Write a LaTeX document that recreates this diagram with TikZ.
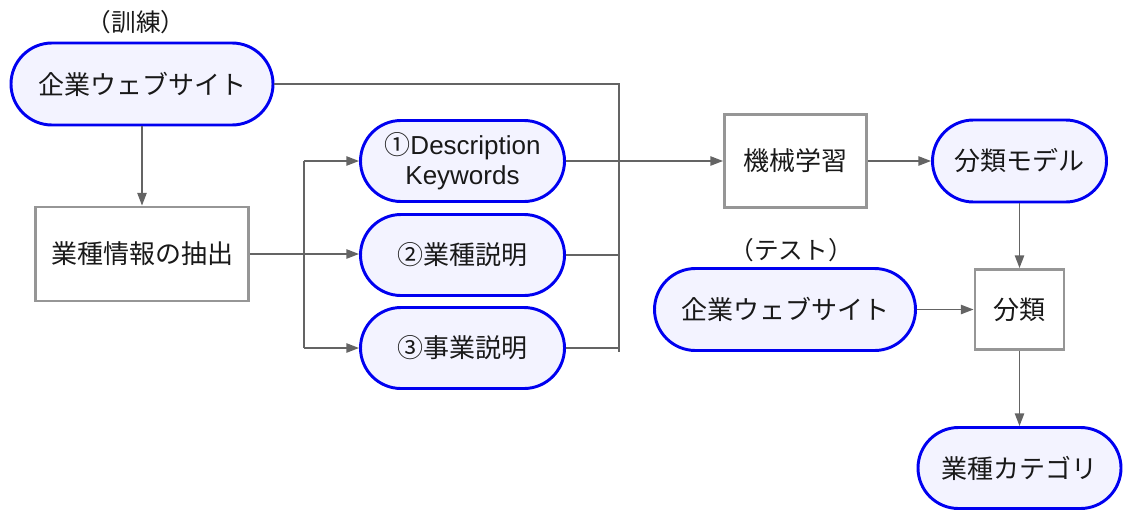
\documentclass[tikz,border=0pt]{standalone}
\usepackage{fontspec}
\setmainfont{Noto Sans CJK JP}
\newfontfamily\latinfont{Liberation Sans}
\usetikzlibrary{arrows.meta,shapes.misc}
\definecolor{nodeblue}{RGB}{0,0,240}
\definecolor{nodefill}{RGB}{243,243,255}
\definecolor{boxgray}{RGB}{150,150,150}
\definecolor{linegray}{RGB}{100,100,100}
\definecolor{txt}{RGB}{25,25,25}
\begin{document}
\begin{tikzpicture}[x=0.75pt,y=-0.75pt,
  pill/.style={rounded rectangle, draw=nodeblue, fill=nodefill, line width=2.2pt, inner sep=0pt, text=txt, font=\fontsize{19.5}{22.5}\selectfont, align=center},
  box/.style={rectangle, draw=boxgray, fill=white, line width=2.2pt, inner sep=0pt, text=txt, font=\fontsize{19.5}{22.5}\selectfont},
  lbl/.style={inner sep=0pt, text=txt, font=\fontsize{18.5}{22}\selectfont},
  conn/.style={draw=linegray, line width=1.1pt},
  arr/.style={conn, -{Triangle[length=9.5pt,width=7pt]}}
]
\useasboundingbox (0,0) rectangle (1123,511);

% nodes
\node[pill, minimum width=196.5pt, minimum height=61.5pt] (web1) at (142,84) {企業ウェブサイト};
\node[lbl] (trainlbl) at (136,22) {（訓練）};
\node[box, minimum width=160pt, minimum height=70.5pt] (ext) at (142,254) {業種情報の抽出};
\node[pill, minimum width=153pt, minimum height=60.75pt] (d1) at (462.5,161) {①{\latinfont Description}\\{\latinfont Keywords}};
\node[pill, minimum width=153pt, minimum height=60.75pt] (d2) at (462.5,255) {②業種説明};
\node[pill, minimum width=153pt, minimum height=60.75pt] (d3) at (462.5,348) {③事業説明};
\node[box, minimum width=106.5pt, minimum height=69.75pt] (ml) at (795.5,161) {機械学習};
\node[pill, minimum width=130.5pt, minimum height=61.5pt] (model) at (1019.5,161) {分類モデル};
\node[box, minimum width=66.75pt, minimum height=60pt] (cls) at (1019.5,309.5) {分類};
\node[pill, minimum width=195.75pt, minimum height=61.5pt] (web2) at (785,309.5) {企業ウェブサイト};
\node[lbl] (testlbl) at (791,250) {（テスト）};
\node[pill, minimum width=152.25pt, minimum height=60.75pt] (cat) at (1019.5,468) {業種カテゴリ};

% coordinates
\coordinate (bl1) at (304,161);
\coordinate (bl3) at (304,348);
\coordinate (br1) at (619,84);
\coordinate (br3) at (619,352);

% connectors
\draw[arr] (web1.south) -- (web1.south |- ext.north);
\draw[conn] (bl1) -- (bl3);
\draw[arr] (ext.east) -- (ext.east -| d2.west);
\draw[arr] (bl1) -- (d1.west);
\draw[arr] (bl3) -- (d3.west);
\draw[conn] (web1.east) -- (br1) -- (br3);
\draw[conn] (d2.east) -- (d2.east -| br1);
\draw[conn] (d3.east) -- (d3.east -| br1);
\draw[arr] (d1.east) -- (ml.west);
\draw[arr] (ml.east) -- (model.west);
\draw[arr] (model.south) -- (cls.north);
\draw[arr] (web2.east) -- (web2.east -| cls.west);
\draw[arr] (cls.south) -- (cat.north);
\end{tikzpicture}
\end{document}
